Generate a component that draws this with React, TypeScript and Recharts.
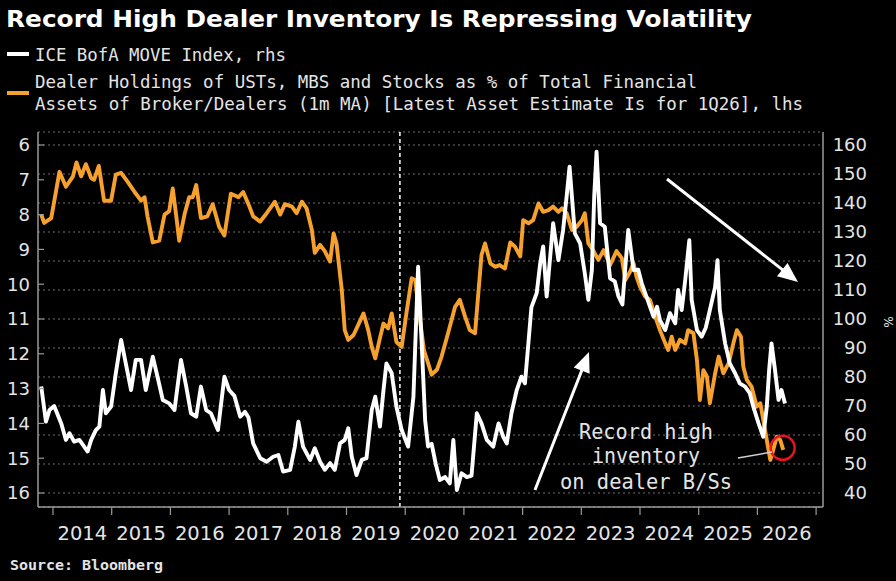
import React from 'react';
import {
  ComposedChart,
  Line,
  XAxis,
  YAxis,
  CartesianGrid,
  ReferenceLine,
  ReferenceDot,
} from 'recharts';

// Dealer holdings of USTs, MBS and stocks as % of total financial assets (lhs, inverted)
const dealerYears = [
  2013.8, 2013.85, 2013.97, 2014.11, 2014.22, 2014.34, 2014.4, 2014.48, 2014.56, 2014.65, 2014.7, 2014.78,
  2014.87, 2014.99, 2015.07, 2015.16, 2015.27, 2015.39, 2015.5, 2015.56, 2015.61, 2015.7, 2015.81, 2015.9,
  2015.98, 2016.04, 2016.1, 2016.15, 2016.24, 2016.32, 2016.38, 2016.44, 2016.52, 2016.63, 2016.72, 2016.83,
  2016.92, 2017.03, 2017.1, 2017.16, 2017.24, 2017.33, 2017.41, 2017.53, 2017.64, 2017.78, 2017.87, 2017.95,
  2018.07, 2018.15, 2018.24, 2018.32, 2018.41, 2018.46, 2018.55, 2018.63, 2018.72, 2018.78, 2018.83, 2018.92,
  2018.97, 2019.03, 2019.12, 2019.2, 2019.29, 2019.37, 2019.43, 2019.49, 2019.57, 2019.63, 2019.71, 2019.77,
  2019.85, 2019.94, 2020.02, 2020.11, 2020.17, 2020.25, 2020.32, 2020.39, 2020.45, 2020.54, 2020.62, 2020.73,
  2020.85, 2020.93, 2021.02, 2021.1, 2021.19, 2021.25, 2021.3, 2021.36, 2021.45, 2021.53, 2021.61, 2021.7,
  2021.79, 2021.87, 2021.96, 2022.01, 2022.1, 2022.18, 2022.27, 2022.35, 2022.44, 2022.52, 2022.61, 2022.67,
  2022.75, 2022.84, 2022.92, 2023.01, 2023.06, 2023.12, 2023.2, 2023.29, 2023.38, 2023.49, 2023.6, 2023.69,
  2023.75, 2023.83, 2023.89, 2023.94, 2024.0, 2024.09, 2024.17, 2024.26, 2024.34, 2024.43, 2024.48, 2024.54,
  2024.6, 2024.68, 2024.77, 2024.82, 2024.91, 2024.97, 2025.02, 2025.08, 2025.14, 2025.19, 2025.28, 2025.34,
  2025.42, 2025.51, 2025.59, 2025.65, 2025.72, 2025.76, 2025.82, 2025.9, 2025.99, 2026.05, 2026.1, 2026.16,
  2026.22, 2026.27, 2026.33, 2026.39, 2026.44,
];
const dealerShare = [
  8.0, 8.24, 8.1, 6.77, 7.2, 6.9, 6.5, 6.9, 6.55, 6.95, 7.0, 6.6,
  7.6, 7.6, 6.85, 6.8, 7.05, 7.35, 7.6, 7.5, 8.05, 8.8, 8.75, 8.0,
  7.9, 7.25, 8.05, 8.75, 8.0, 7.5, 7.5, 7.15, 8.1, 8.05, 7.7, 8.35,
  8.6, 7.4, 7.45, 7.5, 7.35, 7.7, 8.05, 8.2, 7.96, 7.63, 8.0, 7.7,
  7.77, 7.96, 7.63, 7.82, 8.44, 9.1, 8.87, 9.05, 9.35, 8.54, 8.83, 10.17,
  11.32, 11.6, 11.46, 11.17, 10.84, 11.32, 11.8, 12.13, 11.55, 11.13, 11.27, 10.84,
  11.66, 11.8, 10.84, 9.83, 9.88, 11.0, 11.9, 12.27, 12.6, 12.46, 12.08, 11.41,
  10.65, 10.45, 10.93, 11.32, 11.41, 10.17, 9.16, 8.83, 9.4, 9.5, 9.45, 9.55,
  8.8, 8.92, 9.2, 8.16, 8.25, 8.16, 7.68, 7.92, 7.87, 7.77, 7.92, 7.82,
  7.96, 8.44, 8.35, 8.16, 7.96, 8.83, 9.02, 9.3, 9.02, 9.45, 9.05, 9.25,
  9.88, 9.64, 9.4, 9.78, 10.07, 10.36, 10.45, 10.93, 11.32, 11.7, 11.89, 11.51,
  11.89, 11.6, 11.7, 11.32, 11.41, 12.18, 13.33, 12.47, 12.66, 13.42, 12.56, 12.08,
  12.56, 12.27, 11.7, 11.32, 11.51, 12.37, 12.75, 12.94, 13.52, 13.42, 13.9, 14.48,
  15.05, 14.76, 14.38, 14.48, 14.76,
];

// ICE BofA MOVE Index (rhs)
const moveYears = [
  2013.8, 2013.88, 2013.94, 2014.02, 2014.14, 2014.22, 2014.28, 2014.36, 2014.45, 2014.51, 2014.59, 2014.65,
  2014.73, 2014.79, 2014.85, 2014.9, 2014.99, 2015.07, 2015.16, 2015.24, 2015.33, 2015.41, 2015.5, 2015.58,
  2015.7, 2015.78, 2015.87, 2015.98, 2016.07, 2016.18, 2016.27, 2016.35, 2016.44, 2016.52, 2016.61, 2016.69,
  2016.81, 2016.92, 2017.0, 2017.09, 2017.19, 2017.27, 2017.33, 2017.41, 2017.53, 2017.64, 2017.75, 2017.84,
  2017.92, 2018.04, 2018.12, 2018.18, 2018.26, 2018.38, 2018.46, 2018.55, 2018.63, 2018.72, 2018.8, 2018.89,
  2018.97, 2019.03, 2019.09, 2019.17, 2019.26, 2019.34, 2019.43, 2019.49, 2019.57, 2019.63, 2019.68, 2019.77,
  2019.85, 2019.94, 2020.05, 2020.14, 2020.22, 2020.28, 2020.34, 2020.39, 2020.45, 2020.52, 2020.59, 2020.68,
  2020.76, 2020.82, 2020.88, 2020.96, 2021.05, 2021.13, 2021.22, 2021.3, 2021.39, 2021.5, 2021.59, 2021.67,
  2021.73, 2021.81, 2021.9, 2021.98, 2022.04, 2022.1, 2022.15, 2022.24, 2022.3, 2022.35, 2022.41, 2022.47,
  2022.52, 2022.61, 2022.69, 2022.75, 2022.8, 2022.84, 2022.89, 2022.98, 2023.06, 2023.12, 2023.18, 2023.22,
  2023.26, 2023.32, 2023.4, 2023.49, 2023.57, 2023.63, 2023.7, 2023.8, 2023.89, 2023.97, 2024.03, 2024.11,
  2024.23, 2024.29, 2024.34, 2024.43, 2024.51, 2024.6, 2024.65, 2024.71, 2024.77, 2024.84, 2024.88, 2024.97,
  2025.05, 2025.12, 2025.19, 2025.28, 2025.32, 2025.36, 2025.45, 2025.53, 2025.62, 2025.7, 2025.79, 2025.87,
  2025.93, 2026.02, 2026.1, 2026.16, 2026.2, 2026.24, 2026.3, 2026.36, 2026.41, 2026.47,
];
const moveIndex = [
  76.7, 64.6, 68.6, 70, 64, 58.3, 60.6, 57.7, 58.3, 56.6, 54.3, 58.3,
  61.7, 62.9, 75.5, 67.5, 69.8, 81.3, 92.8, 84.7, 75.5, 85.9, 85.9, 75.5,
  87.0, 80.1, 72.1, 70.9, 68.6, 85.9, 76.7, 67.5, 66.3, 76.7, 68.6, 67.5,
  61.7, 80.1, 75.5, 73.5, 66.3, 68, 66, 57.1, 52, 50.8, 52.5, 53.1,
  47.4, 48, 56, 64.6, 56, 51.4, 55.4, 50.8, 48, 50.3, 48, 57.1,
  58.3, 62.3, 52.5, 46.2, 51.4, 52, 68.6, 73.2, 62.9, 75.5, 84.7, 81.3,
  69.8, 61.7, 56, 73.2, 118, 92, 65, 56, 57, 50, 44.5, 45.5,
  43.3, 58.3, 41, 46.8, 45.5, 46, 67.5, 64, 58.3, 56, 64, 59.4,
  57.1, 67.5, 75.5, 80.1, 77.8, 92, 104, 108.9, 119.2, 125, 107.7, 121.5,
  133, 120.3, 130.7, 142.2, 152.5, 142.2, 129.5, 126.1, 115.7, 106.6, 116.9, 142.2,
  157.7, 133, 131.8, 114, 113, 108, 105, 130.7, 116.9, 117, 112.3, 107.7,
  100.8, 104.2, 99.6, 96.2, 102, 98.5, 110, 103.1, 113.4, 127.2, 106.6, 96.2,
  93.9, 97, 103.1, 111.1, 120.3, 103.1, 91.6, 84.7, 81.3, 77.8, 76.7, 74.4,
  69.8, 64, 59.4, 69.8, 82.4, 91.6, 82.4, 72.1, 75.5, 70.9,
];

const yearTicks = [2014, 2015, 2016, 2017, 2018, 2019, 2020, 2021, 2022, 2023, 2024, 2025, 2026, 2027];
const lhsTicks = [6, 7, 8, 9, 10, 11, 12, 13, 14, 15, 16];
const rhsTicks = [40, 50, 60, 70, 80, 90, 100, 110, 120, 130, 140, 150, 160];

const regimeBreak = 2019.91; // dashed divider
const latestMark = { t: 2026.43, v: 14.7 }; // circled record-high inventory reading

const dealerRows = dealerYears.map((t, i) => ({ t, v: dealerShare[i] }));
const moveRows = moveYears.map((t, i) => ({ t, v: moveIndex[i] }));

// layout
const W = 896;
const H = 581;
const PLOT_LEFT = 38;
const PLOT_RIGHT = 823;
const PLOT_TOP = 132;
const PLOT_BOTTOM = 507;
const X_DOMAIN: [number, number] = [2013.7445, 2027.1175];
const LHS_DOMAIN: [number, number] = [5.6264, 16.4023];
const RHS_DOMAIN: [number, number] = [35.172, 164.483];
const HALF_YEAR_PX = (PLOT_RIGHT - PLOT_LEFT) / (X_DOMAIN[1] - X_DOMAIN[0]) / 2;

const ORANGE = '#f6a02e';
const WHITE = '#ffffff';
const AXIS = '#9a9a9a';
const TEXT = '#e4e4e4';
const SANS = '"DejaVu Sans", sans-serif';
const MONO = '"DejaVu Sans Mono", monospace';

const YearTick = (props: any) => {
  const { x, payload } = props;
  if (payload.value >= 2027) return null;
  return (
    <text x={x + HALF_YEAR_PX} y={540} textAnchor="middle" fill={TEXT} fontSize={19.5} fontFamily={SANS}>
      {payload.value}
    </text>
  );
};

const LhsTick = (props: any) => {
  const { y, payload } = props;
  return (
    <g>
      <line x1={PLOT_LEFT} x2={PLOT_LEFT + 6} y1={y} y2={y} stroke={AXIS} strokeWidth={1.2} />
      <text x={30} y={y} dy="0.36em" textAnchor="end" fill={TEXT} fontSize={18} fontFamily={SANS}>
        {payload.value}
      </text>
    </g>
  );
};

const RhsTick = (props: any) => {
  const { y, payload } = props;
  return (
    <text x={867} y={y} dy="0.36em" textAnchor="end" fill={TEXT} fontSize={18} fontFamily={SANS}>
      {payload.value}
    </text>
  );
};

const Arrow = ({ x1, y1, x2, y2 }: { x1: number; y1: number; x2: number; y2: number }) => {
  const dx = x2 - x1;
  const dy = y2 - y1;
  const len = Math.hypot(dx, dy);
  const ux = dx / len;
  const uy = dy / len;
  const headLen = 20;
  const headHalf = 8.5;
  const bx = x2 - ux * headLen;
  const by = y2 - uy * headLen;
  const pts = [
    `${x2},${y2}`,
    `${bx - uy * headHalf},${by + ux * headHalf}`,
    `${bx + uy * headHalf},${by - ux * headHalf}`,
  ].join(' ');
  return (
    <g>
      <line x1={x1} y1={y1} x2={bx + ux * 2} y2={by + uy * 2} stroke={WHITE} strokeWidth={3} />
      <polygon points={pts} fill={WHITE} />
    </g>
  );
};

export default function App() {
  return (
    <div style={{ position: 'fixed', left: 0, top: 0, width: W, height: H, background: '#000', overflow: 'hidden' }}>
      <div style={{ position: 'absolute', left: 0, top: 0 }}>
        <ComposedChart width={W} height={H} margin={{ top: PLOT_TOP, right: 0, bottom: 0, left: 0 }}>
          <CartesianGrid
            yAxisId="rhs"
            vertical={false}
            stroke="#707070"
            strokeDasharray="2 3"
            strokeWidth={1}
          />
          <XAxis
            dataKey="t"
            type="number"
            domain={X_DOMAIN}
            allowDataOverflow
            ticks={yearTicks}
            interval={0}
            height={H - PLOT_BOTTOM}
            axisLine={{ stroke: AXIS, strokeWidth: 1.5 }}
            tickLine={{ stroke: AXIS, strokeWidth: 1.2 }}
            tickSize={8}
            tick={<YearTick />}
          />
          <YAxis
            yAxisId="lhs"
            orientation="left"
            width={PLOT_LEFT}
            reversed
            domain={LHS_DOMAIN}
            allowDataOverflow
            ticks={lhsTicks}
            interval={0}
            axisLine={{ stroke: AXIS, strokeWidth: 1.5 }}
            tickLine={false}
            tick={<LhsTick />}
          />
          <YAxis
            yAxisId="rhs"
            orientation="right"
            width={W - PLOT_RIGHT}
            domain={RHS_DOMAIN}
            allowDataOverflow
            ticks={rhsTicks}
            interval={0}
            axisLine={{ stroke: AXIS, strokeWidth: 1.5 }}
            tickLine={false}
            tick={<RhsTick />}
          />
          <ReferenceLine
            x={regimeBreak}
            yAxisId="lhs"
            stroke={WHITE}
            strokeWidth={1.5}
            strokeDasharray="4 3"
          />
          <Line
            yAxisId="lhs"
            data={dealerRows}
            dataKey="v"
            type="linear"
            stroke={ORANGE}
            strokeWidth={3.9}
            strokeLinejoin="round"
            dot={false}
            activeDot={false}
            isAnimationActive={false}
          />
          <Line
            yAxisId="rhs"
            data={moveRows}
            dataKey="v"
            type="linear"
            stroke={WHITE}
            strokeWidth={3.9}
            strokeLinejoin="round"
            dot={false}
            activeDot={false}
            isAnimationActive={false}
          />
          <ReferenceDot
            yAxisId="lhs"
            x={latestMark.t}
            y={latestMark.v}
            r={12}
            fill="none"
            stroke="#e8141b"
            strokeWidth={2.5}
          />
        </ComposedChart>
      </div>
      <svg
        width={W}
        height={H}
        style={{ position: 'absolute', left: 0, top: 0, pointerEvents: 'none' }}
      >
        <text
          x={6}
          y={27}
          fill={WHITE}
          fontSize={23}
          fontWeight="bold"
          fontFamily={SANS}
          textLength={746}
          lengthAdjust="spacingAndGlyphs"
        >
          Record High Dealer Inventory Is Repressing Volatility
        </text>

        <line x1={7} x2={29} y1={54} y2={54} stroke={WHITE} strokeWidth={4} />
        <text x={35} y={61} fill={TEXT} fontSize={18} fontFamily={MONO} textLength={251} lengthAdjust="spacingAndGlyphs">
          ICE BofA MOVE Index, rhs
        </text>
        <line x1={7} x2={29} y1={93} y2={93} stroke={ORANGE} strokeWidth={4} />
        <text x={35} y={88} fill={TEXT} fontSize={18} fontFamily={MONO} textLength={662} lengthAdjust="spacingAndGlyphs">
          Dealer Holdings of USTs, MBS and Stocks as % of Total Financial
        </text>
        <text x={35} y={110} fill={TEXT} fontSize={18} fontFamily={MONO} textLength={768} lengthAdjust="spacingAndGlyphs">
          Assets of Broker/Dealers (1m MA) [Latest Asset Estimate Is for 1Q26], lhs
        </text>

        <text x={884} y={322} fill={TEXT} fontSize={12} fontFamily={SANS} textAnchor="middle" transform="rotate(90 884 322)">
          %
        </text>

        <Arrow x1={535} y1={490} x2={589} y2={352} />
        <Arrow x1={667} y1={179} x2={798} y2={282} />

        <g fill={TEXT} fontSize={21} fontFamily={MONO} textAnchor="middle">
          <text x={646} y={439} textLength={134} lengthAdjust="spacingAndGlyphs">Record high</text>
          <text x={646} y={463} textLength={108} lengthAdjust="spacingAndGlyphs">inventory</text>
          <text x={646} y={489} textLength={172} lengthAdjust="spacingAndGlyphs">on dealer B/Ss</text>
        </g>
        <line x1={738} y1={458} x2={772} y2={452} stroke="#cfcfcf" strokeWidth={1.5} />

        <text
          x={10}
          y={570}
          fill={TEXT}
          fontSize={14}
          fontWeight="bold"
          fontFamily={MONO}
          textLength={153}
          lengthAdjust="spacingAndGlyphs"
        >
          Source: Bloomberg
        </text>
      </svg>
    </div>
  );
}
